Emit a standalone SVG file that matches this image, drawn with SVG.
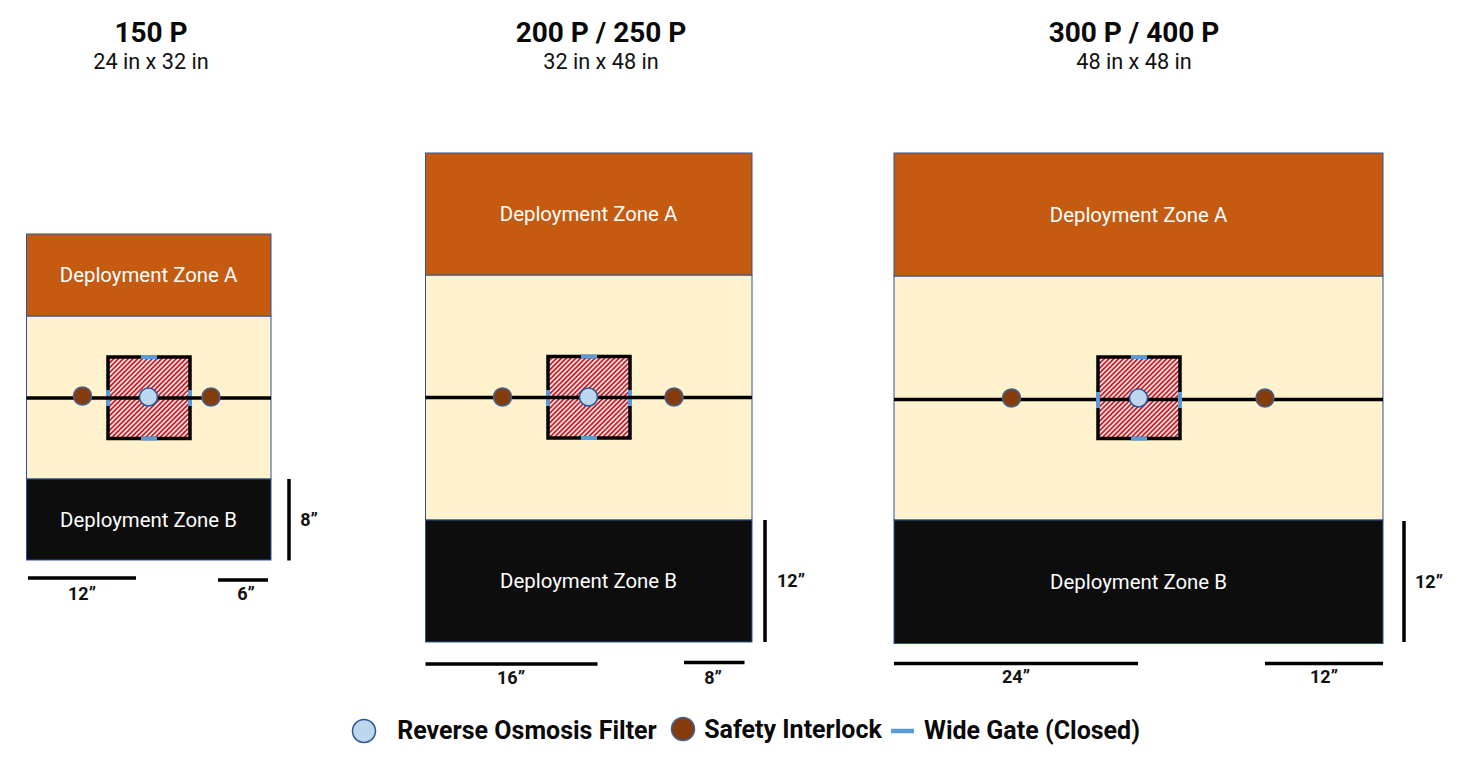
<svg xmlns="http://www.w3.org/2000/svg" width="1467" height="765" viewBox="0 0 1467 765">
<style>
text{font-family:Roboto,"Liberation Sans",sans-serif;text-anchor:middle}
.h{font-size:28px;font-weight:700;fill:#0a0a0a}
.s{font-size:21.700px;fill:#111}
.z{font-size:20.400px;fill:#fff}
.d{font-size:18px;font-weight:700;fill:#111}
.l{font-size:25px;font-weight:700;fill:#0a0a0a}
.a{fill:#c55a11;stroke:#2f5597;stroke-width:1}
.m{fill:#fff2cc;stroke:#2f5597;stroke-width:1}
.b{fill:#0d0d0d;stroke:#2f5597;stroke-width:1}
.w{stroke:#000;stroke-width:3.500;fill:none}
.dim{stroke:#000;stroke-width:3.500;fill:none}
.sq{fill:url(#hatch);stroke:#000;stroke-width:3.500}
.gate{stroke:#5b9bd5;stroke-width:4;fill:none}
.f{fill:#bdd7ee;stroke:#2f5597;stroke-width:1.500}
.i{fill:#843c0c;stroke:#44608f;stroke-width:1.500}
</style>
<defs>
<pattern id="hatch" width="3.400" height="3.400" patternUnits="userSpaceOnUse" patternTransform="rotate(-45)">
<rect width="3.400" height="3.400" fill="#fbe0e0"/>
<rect width="3.400" height="1.700" fill="#c8202a"/>
</pattern>
</defs>
<g id="title-150"><text class="h" x="151" y="42">150 P</text><text class="s" x="151" y="69">24 in x 32 in</text></g>
<g id="title-200"><text class="h" x="601" y="42">200 P / 250 P</text><text class="s" x="601" y="69">32 in x 48 in</text></g>
<g id="title-300"><text class="h" x="1134" y="42">300 P / 400 P</text><text class="s" x="1134" y="69">48 in x 48 in</text></g>

<g id="zone-mid-150"><rect class="m" x="26.500" y="316" width="244.500" height="163"/></g>
<g id="zone-a-150"><rect class="a" x="26.500" y="234" width="244.500" height="82"/><text class="z" x="148.500" y="282">Deployment Zone A</text></g>
<g id="zone-b-150"><rect class="b" x="26.500" y="479" width="244.500" height="81"/><text class="z" x="148.500" y="527">Deployment Zone B</text></g>
<g id="zone-mid-200"><rect class="m" x="425.500" y="275" width="326.500" height="245"/></g>
<g id="zone-a-200"><rect class="a" x="425.500" y="153" width="326.500" height="122"/><text class="z" x="588.500" y="221">Deployment Zone A</text></g>
<g id="zone-b-200"><rect class="b" x="425.500" y="520" width="326.500" height="122"/><text class="z" x="588.500" y="588">Deployment Zone B</text></g>
<g id="zone-mid-300"><rect class="m" x="894" y="276" width="489" height="244"/></g>
<g id="zone-a-300"><rect class="a" x="894" y="153" width="489" height="123"/><text class="z" x="1138.500" y="222">Deployment Zone A</text></g>
<g id="zone-b-300"><rect class="b" x="894" y="520" width="489" height="123.500"/><text class="z" x="1138.500" y="589">Deployment Zone B</text></g>

<g id="chamber-150"><rect class="sq" x="108" y="357" width="82" height="81.500"/></g>
<g id="chamber-200"><rect class="sq" x="548" y="356.500" width="82" height="81.500"/></g>
<g id="chamber-300"><rect class="sq" x="1098" y="357" width="82" height="81.500"/></g>

<g id="connectors">
<path class="gate" d="M141 357H157M141 438.500H157M108 390V406M190 390V406"/>
<path class="gate" d="M581 356.500H597M581 438H597M548 390V406M630 390V406"/>
<path class="w" d="M26.500 398H271M425.500 397.500H752M894 399.500H1383"/>
<path class="gate" d="M1131 357H1147M1131 438.500H1147M1098 392V408M1180 392V408"/>
<path class="dim" d="M289 479V560.500M28 578H136M218 580H268"/>
<path class="dim" d="M765 520V642M425.500 664H597.500M684 662.500H744.500"/>
<path class="dim" d="M1404 521V642M894 663.500H1138M1265 663.500H1383"/>
</g>

<g id="filter-150"><circle class="f" cx="148.500" cy="397" r="9"/></g>
<g id="filter-200"><circle class="f" cx="588.500" cy="397" r="9"/></g>
<g id="filter-300"><circle class="f" cx="1138.500" cy="398" r="9"/></g>
<g id="interlock-150-l"><circle class="i" cx="82.500" cy="396" r="9"/></g>
<g id="interlock-150-r"><circle class="i" cx="211" cy="397" r="9"/></g>
<g id="interlock-200-l"><circle class="i" cx="502.500" cy="397" r="9"/></g>
<g id="interlock-200-r"><circle class="i" cx="674" cy="397" r="9"/></g>
<g id="interlock-300-l"><circle class="i" cx="1011.500" cy="398" r="9"/></g>
<g id="interlock-300-r"><circle class="i" cx="1265" cy="398" r="9"/></g>

<g id="dim-labels">
<text class="d" x="309" y="526">8”</text><text class="d" x="82" y="600">12”</text><text class="d" x="246" y="600">6”</text>
<text class="d" x="791" y="587">12”</text><text class="d" x="511" y="684">16”</text><text class="d" x="713" y="684">8”</text>
<text class="d" x="1429" y="588">12”</text><text class="d" x="1016" y="683">24”</text><text class="d" x="1324" y="683">12”</text>
</g>
<g id="legend">
<circle class="f" cx="364" cy="731" r="11.500"/><text class="l" x="527" y="739">Reverse Osmosis Filter</text>
<circle class="i" cx="683" cy="729" r="11.500"/><text class="l" x="793" y="738">Safety Interlock</text>
<path stroke="#5b9bd5" stroke-width="4.500" d="M891 731H914"/><text class="l" x="1032" y="739">Wide Gate (Closed)</text>
</g>
</svg>
